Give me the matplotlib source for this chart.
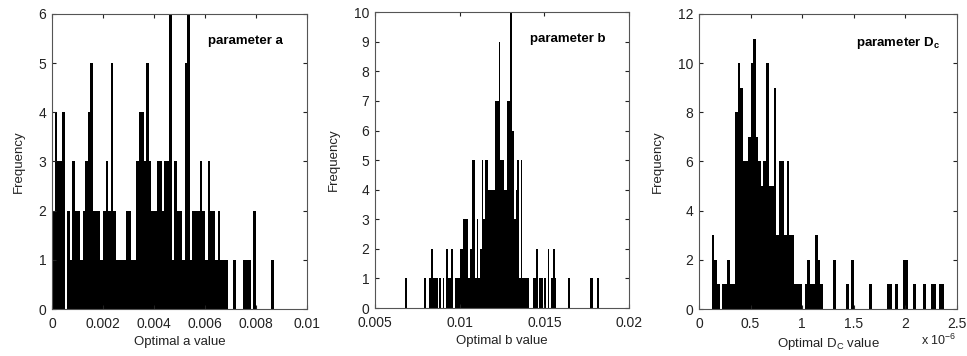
import numpy as np
import matplotlib
matplotlib.use("Agg")
import matplotlib.pyplot as plt

plt.rcParams['font.family'] = ['Liberation Sans', 'DejaVu Sans']
plt.rcParams['mathtext.fontset'] = 'custom'
plt.rcParams['mathtext.rm'] = 'Liberation Sans'
plt.rcParams['mathtext.bf'] = 'Liberation Sans:bold'

# parameter a: bins of 0.0001 starting at 0
a_start = 0.0
a_width = 0.0001
a_counts = [2, 4, 3, 3, 4, 0, 2, 1, 3, 2, 2, 1, 2, 3, 4, 5, 2, 2, 2, 1,
            2, 3, 2, 5, 2, 1, 1, 1, 1, 2, 2, 1, 1, 3, 4, 4, 3, 5, 3, 2,
            2, 3, 3, 2, 3, 3, 6, 1, 3, 2, 2, 1, 5, 6, 1, 2, 2, 2, 3, 2,
            1, 3, 2, 2, 1, 2, 1, 1, 1, 0, 0, 1, 0, 0, 0, 1, 1, 1, 0, 2,
            0, 0, 0, 0, 0, 0, 1, 0]

# parameter b: bins of 0.0001 starting at 0.0068
b_start = 0.0068
b_width = 0.0001
b_counts = [1, 0, 0, 0, 0, 0, 0, 0, 0, 0, 0, 1, 0, 0, 1, 2, 1, 1, 1, 0,
            1, 0, 1, 0, 2, 1, 1, 2, 0, 1, 1, 1, 2, 2, 3, 3, 3, 1, 2, 5,
            5, 1, 3, 1, 2, 5, 3, 5, 5, 4, 4, 4, 4, 7, 7, 9, 5, 5, 4, 4,
            7, 7, 10, 6, 3, 4, 5, 1, 5, 1, 1, 1, 1, 0, 0, 1, 1, 2, 0, 1,
            1, 0, 1, 0, 2, 0, 1, 2, 1, 0, 0, 0, 0, 0, 0, 0, 1, 0, 0, 0,
            0, 0, 0, 0, 0, 0, 0, 0, 0, 1, 1, 0, 0, 1]

# parameter Dc (x 1e-6): bins of 0.025 starting at 0
dc_start = 0.0
dc_width = 0.025
dc_counts = [0, 0, 0, 0, 0, 3, 2, 1, 0, 1, 1, 2, 1, 1, 8, 10, 9, 6, 6, 7,
             10, 11, 7, 6, 5, 6, 10, 5, 5, 9, 3, 6, 6, 3, 6, 3, 3, 1, 1, 1,
             0, 1, 2, 1, 1, 3, 2, 1, 0, 0, 0, 0, 2, 0, 0, 0, 0, 1, 0, 2,
             0, 0, 0, 0, 0, 0, 1, 0, 0, 0, 0, 0, 0, 1, 1, 0, 1, 0, 0, 2,
             2, 0, 0, 1, 0, 0, 0, 1, 0, 0, 1, 1, 0, 1, 1]

panels = [
    dict(start=a_start, width=a_width, counts=a_counts, xlim=(0, 0.01),
         xticks=[0, 0.002, 0.004, 0.006, 0.008, 0.01],
         xlabels=['0', '0.002', '0.004', '0.006', '0.008', '0.01'],
         ylim=(0, 6), yticks=range(0, 7), xlabel='Optimal a value',
         title='parameter a', pos=[0.0538, 0.132, 0.2637, 0.8287]),
    dict(start=b_start, width=b_width, counts=b_counts, xlim=(0.005, 0.02),
         xticks=[0.005, 0.01, 0.015, 0.02],
         xlabels=['0.005', '0.01', '0.015', '0.02'],
         ylim=(0, 10), yticks=range(0, 11), xlabel='Optimal b value',
         title='parameter b', pos=[0.3878, 0.1348, 0.2627, 0.831]),
    dict(start=dc_start, width=dc_width, counts=dc_counts, xlim=(0, 2.5),
         xticks=[0, 0.5, 1, 1.5, 2, 2.5],
         xlabels=['0', '0.5', '1', '1.5', '2', '2.5'],
         ylim=(0, 12), yticks=range(0, 13, 2), xlabel='Optimal D$_\\mathrm{C}$ value',
         title='parameter D$_\\mathbf{c}$', pos=[0.7228, 0.132, 0.2668, 0.8287]),
]

fig = plt.figure(figsize=(9.67, 3.56), dpi=100)

for p in panels:
    ax = fig.add_axes(p['pos'])
    counts = np.array(p['counts'])
    left = p['start'] + p['width'] * np.arange(len(counts))
    ax.bar(left, counts, width=p['width'], align='edge', color='black', linewidth=0)
    ax.set_xlim(*p['xlim'])
    ax.set_ylim(*p['ylim'])
    ax.set_xticks(p['xticks'])
    ax.set_xticklabels(p['xlabels'])
    ax.set_yticks(list(p['yticks']))
    ax.tick_params(direction='in', top=True, right=True, length=3,
                   labelsize=10, colors='#222222')
    ax.tick_params(axis='x', pad=6)
    ax.tick_params(axis='y', pad=4)
    for s in ax.spines.values():
        s.set_color('#555555')
        s.set_linewidth(0.8)
    ax.set_xlabel(p['xlabel'], fontsize=9.5, color='#222222', labelpad=3)
    ax.set_ylabel('Frequency', fontsize=9.5, color='#222222', labelpad=10)
    ax.text(0.61, 0.93, p['title'], transform=ax.transAxes, fontsize=9.5,
            fontweight='bold', va='top', ha='left')

fig.text(0.952, 0.045, 'x 10$^{-6}$', fontsize=9, ha='left', va='center', color='#222222')

fig.savefig('out.png', dpi=100)
